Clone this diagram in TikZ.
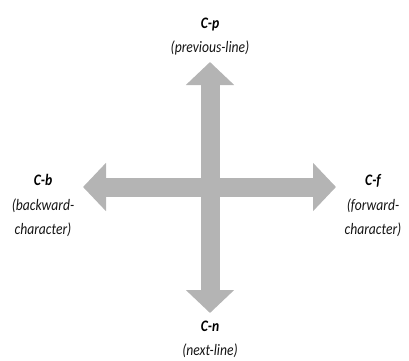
\documentclass[tikz,border=0pt]{standalone}
\usepackage{fontspec}
\setmainfont{Carlito}[FakeStretch=0.85]
\usetikzlibrary{arrows.meta}
\definecolor{arrowgray}{RGB}{180,180,180}
\definecolor{textdark}{RGB}{20,20,20}
\tikzset{
  key/.style={anchor=base, inner sep=0pt, font=\fontsize{16}{18}\selectfont\bfseries\itshape, text=black},
  desc/.style={anchor=base, inner sep=0pt, font=\fontsize{16}{18}\selectfont\itshape, text=textdark},
  bigarrow/.style={draw=arrowgray, line width=19pt,
    {Triangle[length=23pt,width=47pt]}-{Triangle[length=23pt,width=47pt]}}
}
\begin{document}
\begin{tikzpicture}[x=1pt,y=-1pt]
\useasboundingbox (0,0) rectangle (409,360);
% arrow end points
\coordinate (ntip) at (210,62);
\coordinate (stip) at (210,313);
\coordinate (wtip) at (83,187);
\coordinate (etip) at (336,187);
\draw[bigarrow] (ntip) -- (stip);
\draw[bigarrow] (wtip) -- (etip);
% labels
\node[key]  (cp)  at (210,28)  {C-p};
\node[desc] (cpd) at (210,52)  {(previous-line)};
\node[key]  (cb)  at (43,185)  {C-b};
\node[desc] (cbd) at (43,210)  {(backward-};
\node[desc] (cbe) at (43,234)  {character)};
\node[key]  (cf)  at (373,185) {C-f};
\node[desc] (cfd) at (373,210) {(forward-};
\node[desc] (cfe) at (373,234) {character)};
\node[key]  (cn)  at (210,331) {C-n};
\node[desc] (cnd) at (210,355) {(next-line)};
\end{tikzpicture}
\end{document}
